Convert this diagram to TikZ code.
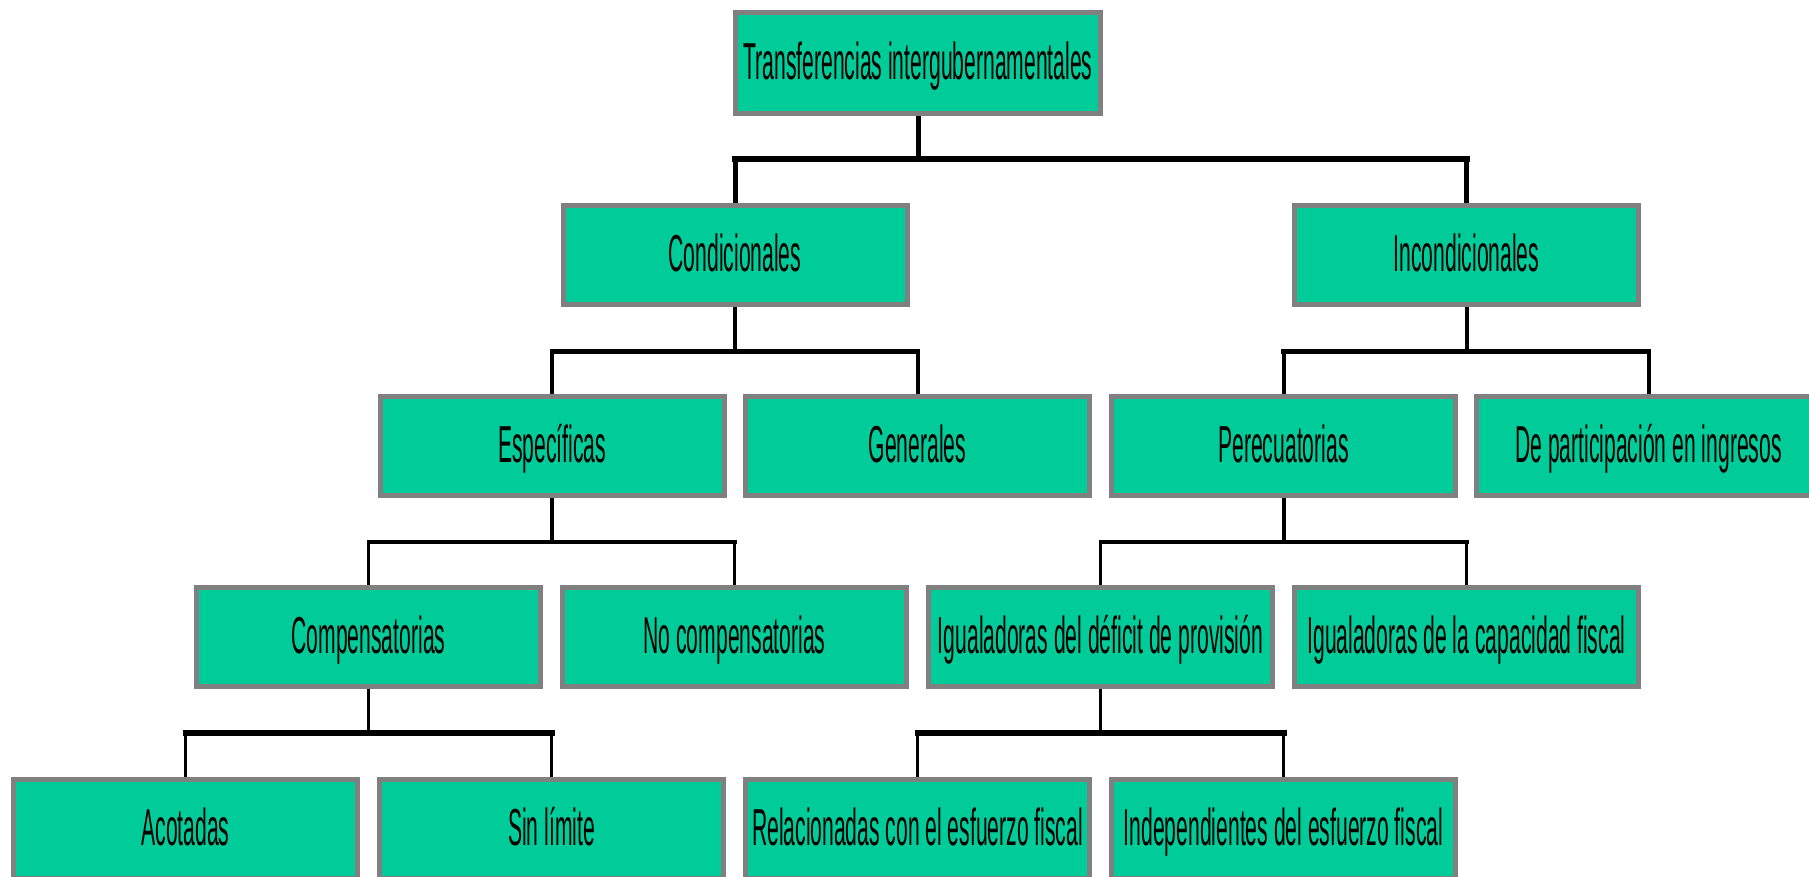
\documentclass[tikz,border=0pt]{standalone}
\usepackage{fontspec}
\usepackage{graphicx}
\setmainfont{Liberation Sans}
\usetikzlibrary{backgrounds}
\definecolor{boxfill}{RGB}{0,204,153}
\definecolor{boxline}{RGB}{128,128,128}
\newcommand\sqz[1]{\scalebox{0.406}[1]{#1}}
\begin{document}
\begin{tikzpicture}[x=1pt,y=-1pt,
  box/.style={draw=boxline, line width=5pt, fill=boxfill, minimum width=344pt,
    minimum height=99pt, inner sep=0pt, font=\fontsize{52}{60}\selectfont,
    text height=38pt, text depth=5pt},
  topbox/.style={box, minimum width=365pt, minimum height=101pt},
  wA/.style={line width=5pt, draw=black},
  wAbus/.style={line width=6pt, draw=black, line cap=rect},
  wB/.style={line width=4pt, draw=black},
  wBbus/.style={line width=5pt, draw=black, line cap=rect},
  wC/.style={line width=4pt, draw=black},
  wCleg/.style={line width=3pt, draw=black},
  wCbus/.style={line width=4pt, draw=black, line cap=rect},
  wD/.style={line width=2.5pt, draw=black},
  wDbus/.style={line width=6pt, draw=black, line cap=rect}]
\useasboundingbox (0,0) rectangle (1809,876);

% level 0
\node[topbox] (t) at (918,63) {\sqz{Transferencias intergubernamentales}};
% level 1
\node[box] (cond) at (735,254.5) {\sqz{Condicionales}};
\node[box] (incond) at (1466.5,254.5) {\sqz{Incondicionales}};
% level 2
\node[box] (esp) at (552,445.5) {\sqz{Específicas}};
\node[box] (gen) at (917.5,445.5) {\sqz{Generales}};
\node[box] (per) at (1283.5,445.5) {\sqz{Perecuatorias}};
\node[box] (part) at (1648.5,445.5) {\sqz{De participación en ingresos}};
% level 3
\node[box] (comp) at (368.5,636.5) {\sqz{Compensatorias}};
\node[box] (nocomp) at (734.5,636.5) {\sqz{No compensatorias}};
\node[box] (igd) at (1100.5,636.5) {\sqz{Igualadoras del déficit de provisión}};
\node[box] (igc) at (1466.5,636.5) {\sqz{Igualadoras de la capacidad fiscal}};
% level 4
\node[box] (acot) at (185.5,829) {\sqz{Acotadas}};
\node[box] (sinl) at (551.5,829) {\sqz{Sin límite}};
\node[box] (rel) at (917.5,829) {\sqz{Relacionadas con el esfuerzo fiscal}};
\node[box] (ind) at (1283.5,829) {\sqz{Independientes del esfuerzo fiscal}};

\coordinate (b0) at (0,159);
\coordinate (b1) at (0,351);
\coordinate (b2) at (0,542);
\coordinate (b3) at (0,733);

\begin{pgfonlayer}{background}
% level 0 -> 1
\draw[wA] (t.south) -- (t.south |- b0);
\draw[wAbus] (cond.north |- b0) -- (incond.north |- b0);
\draw[wA] (cond.north |- b0) -- (cond.north);
\draw[wA] (incond.north |- b0) -- (incond.north);
% level 1 -> 2
\draw[wB] (cond.south) -- (cond.south |- b1);
\draw[wBbus] (esp.north |- b1) -- (gen.north |- b1);
\draw[wB] (esp.north |- b1) -- (esp.north);
\draw[wB] (gen.north |- b1) -- (gen.north);
\draw[wB] (incond.south) -- (incond.south |- b1);
\draw[wBbus] (per.north |- b1) -- (part.north |- b1);
\draw[wB] (per.north |- b1) -- (per.north);
\draw[wB] (part.north |- b1) -- (part.north);
% level 2 -> 3
\draw[wC] (esp.south) -- (esp.south |- b2);
\draw[wCbus] (comp.north |- b2) -- (nocomp.north |- b2);
\draw[wCleg] (comp.north |- b2) -- (comp.north);
\draw[wCleg] (nocomp.north |- b2) -- (nocomp.north);
\draw[wC] (per.south) -- (per.south |- b2);
\draw[wCbus] (igd.north |- b2) -- (igc.north |- b2);
\draw[wCleg] (igd.north |- b2) -- (igd.north);
\draw[wCleg] (igc.north |- b2) -- (igc.north);
% level 3 -> 4
\draw[wD] (comp.south) -- (comp.south |- b3);
\draw[wDbus] (acot.north |- b3) -- (sinl.north |- b3);
\draw[wD] (acot.north |- b3) -- (acot.north);
\draw[wD] (sinl.north |- b3) -- (sinl.north);
\draw[wD] (igd.south) -- (igd.south |- b3);
\draw[wDbus] (rel.north |- b3) -- (ind.north |- b3);
\draw[wD] (rel.north |- b3) -- (rel.north);
\draw[wD] (ind.north |- b3) -- (ind.north);
\end{pgfonlayer}
\end{tikzpicture}
\end{document}
